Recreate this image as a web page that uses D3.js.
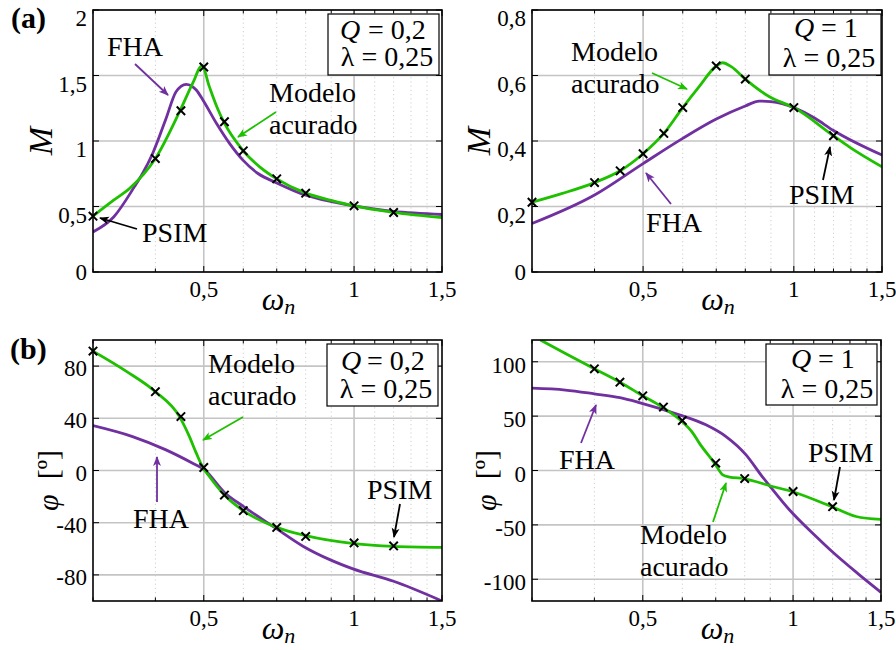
<!DOCTYPE html>
<html><head><meta charset="utf-8">
<script src="https://cdn.jsdelivr.net/npm/d3@7/dist/d3.min.js"></script>
<style>
body{margin:0;background:#fff}
svg{display:block}
svg text, svg tspan{font-family:"Liberation Serif", "Times New Roman", serif}
</style>
</head><body>
<svg id="c" width="896" height="650"></svg>
<script>
// ---------------- DATA ----------------
const xMajor = [0.5, 1, 1.5];
const xMajorLabels = ["0,5", "1", "1,5"];
const xMinor = [0.3, 0.4, 0.6, 0.7, 0.8, 0.9, 1.1, 1.2, 1.3, 1.4];

const yTicksMQ02 = [0, 0.5, 1, 1.5, 2];
const yLabelsMQ02 = ["0", "0,5", "1", "1,5", "2"];
const yTicksMQ1 = [0, 0.2, 0.4, 0.6, 0.8];
const yLabelsMQ1 = ["0", "0,2", "0,4", "0,6", "0,8"];
const yTicksPhiQ02 = [-80, -40, 0, 40, 80];
const yLabelsPhiQ02 = ["-80", "-40", "0", "40", "80"];
const yTicksPhiQ1 = [-100, -50, 0, 50, 100];
const yLabelsPhiQ1 = ["-100", "-50", "0", "50", "100"];

// (a) Q = 0.2 gain
const accW_MQ02 = [0.3, 0.33, 0.355, 0.4, 0.448, 0.475, 0.496, 0.513, 0.531, 0.548, 0.6, 0.647, 0.7, 0.8, 0.9, 1, 1.2, 1.5];
const accM_Q02  = [0.426, 0.548, 0.637, 0.866, 1.231, 1.44, 1.573, 1.415, 1.262, 1.147, 0.925, 0.803, 0.711, 0.602, 0.547, 0.505, 0.455, 0.416];
const fhaW_MQ02 = [0.3, 0.33, 0.363, 0.377, 0.395, 0.42, 0.44, 0.461, 0.483, 0.498, 0.53, 0.563, 0.599, 0.642, 0.7, 0.8, 0.9, 1, 1.2, 1.5];
const fhaM_Q02  = [0.306, 0.42, 0.65, 0.752, 0.905, 1.17, 1.376, 1.433, 1.389, 1.313, 1.135, 0.982, 0.854, 0.752, 0.68, 0.586, 0.537, 0.505, 0.462, 0.439];
const psimW_Q02 = [0.3, 0.4, 0.45, 0.5, 0.55, 0.6, 0.7, 0.8, 1, 1.2];
const psimM_Q02 = [0.426, 0.866, 1.231, 1.565, 1.147, 0.925, 0.711, 0.602, 0.505, 0.454];

// (a) Q = 1 gain
const accW_MQ1 = [0.3, 0.345, 0.4, 0.45, 0.5, 0.55, 0.6, 0.647, 0.7, 0.721, 0.75, 0.8, 0.894, 1, 1.2, 1.29, 1.5];
const accM_Q1  = [0.213, 0.24, 0.273, 0.309, 0.361, 0.423, 0.502, 0.566, 0.629, 0.639, 0.627, 0.589, 0.535, 0.502, 0.416, 0.382, 0.321];
const fhaW_MQ1 = [0.3, 0.4, 0.5, 0.6, 0.7, 0.8, 0.853, 0.9, 1, 1.1, 1.2, 1.5];
const fhaM_Q1  = [0.148, 0.235, 0.331, 0.408, 0.467, 0.507, 0.522, 0.52, 0.502, 0.47, 0.432, 0.357];
const psimW_Q1 = [0.3, 0.4, 0.45, 0.5, 0.55, 0.6, 0.7, 0.8, 1, 1.2];
const psimM_Q1 = [0.213, 0.273, 0.309, 0.361, 0.423, 0.502, 0.629, 0.589, 0.502, 0.416];

// (b) Q = 0.2 phase
const accW_PQ02 = [0.3, 0.35, 0.4, 0.447, 0.468, 0.483, 0.498, 0.513, 0.55, 0.6, 0.7, 0.8, 1, 1.2, 1.5];
const accP_Q02  = [91.5, 76, 60.4, 41.3, 26, 13.3, 2.3, -4.6, -18.8, -30.8, -43.6, -49.9, -56, -58.1, -58.9];
const fhaW_PQ02 = [0.3, 0.36, 0.42, 0.475, 0.5, 0.55, 0.6, 0.693, 0.79, 0.894, 0.995, 1.2, 1.5];
const fhaP_Q02  = [34.4, 26, 15.8, 5.6, 1, -16.8, -27.5, -43.6, -58, -68.3, -75.4, -84.9, -100];
const psimW_PQ02 = [0.3, 0.4, 0.45, 0.5, 0.55, 0.6, 0.7, 0.8, 1, 1.2];
const psimP_Q02  = [91.5, 60.4, 41.3, 2.3, -18.8, -30.8, -43.6, -50.5, -55.5, -57.8];

// (b) Q = 1 phase
const accW_PQ1 = [0.312, 0.35, 0.4, 0.45, 0.5, 0.547, 0.596, 0.63, 0.649, 0.696, 0.723, 0.746, 0.795, 0.91, 0.994, 1.193, 1.337, 1.5];
const accP_Q1  = [120, 107.5, 93.5, 81.2, 68.7, 58.3, 46, 34.4, 25.2, 6.8, -4, -6.1, -7.4, -14.7, -19.3, -33.1, -42.3, -45];
const fhaW_PQ1 = [0.3, 0.35, 0.4, 0.45, 0.492, 0.592, 0.669, 0.734, 0.805, 0.869, 0.89, 0.983, 1.112, 1.2, 1.35, 1.5];
const fhaP_Q1  = [75.7, 74, 70.5, 67, 62.5, 51.2, 42, 31.2, 14.4, -6.1, -12, -36.1, -60.7, -75, -95, -112];
const psimW_PQ1 = [0.4, 0.45, 0.5, 0.55, 0.6, 0.7, 0.8, 1, 1.2];
const psimP_Q1  = [93.5, 81.2, 68.7, 58.3, 46, 6.8, -7.4, -19.3, -33.3];

// ---------------- STYLE ----------------
const FONT = "Liberation Serif";
const GREEN = "#1ec000", PURPLE = "#7030a0", GRID = "#c4c4c4";
const zip = (a, b) => a.map((v, i) => [v, b[i]]);

const svg = d3.select("#c");
const defs = svg.append("defs");
function arrowMarker(id, color) {
  defs.append("marker").attr("id", id).attr("viewBox", "0 0 10 10")
    .attr("refX", 9).attr("refY", 5).attr("markerWidth", 5.5).attr("markerHeight", 5.5)
    .attr("markerUnits", "strokeWidth").attr("orient", "auto")
    .append("path").attr("d", "M0,1 L10,5 L0,9 L2.5,5 Z").attr("fill", color);
}
arrowMarker("ag", GREEN); arrowMarker("ap", PURPLE); arrowMarker("ak", "#000");

function txt(parent, x, y, size) {
  return parent.append("text").attr("x", x).attr("y", y).attr("font-size", size)
    .attr("font-family", FONT).attr("fill", "#000");
}

const panels = [
  { id: "tl", x0: 93, x1: 442, y0: 10, y1: 272, yDom: [0, 2], yT: yTicksMQ02, yL: yLabelsMQ02, lblOff: 8,
    acc: zip(accW_MQ02, accM_Q02), fha: zip(fhaW_MQ02, fhaM_Q02), psim: zip(psimW_Q02, psimM_Q02),
    ylab: "M", ylabX: 52, q: "= 0,2", box: [328, 14, 111, 61], qx: [340, 368], lx: 387, boxB: [39, 66] },
  { id: "tr", x0: 532, x1: 882, y0: 10, y1: 272, yDom: [0, 0.8], yT: yTicksMQ1, yL: yLabelsMQ1, lblOff: 8,
    acc: zip(accW_MQ1, accM_Q1), fha: zip(fhaW_MQ1, fhaM_Q1), psim: zip(psimW_Q1, psimM_Q1),
    ylab: "M", ylabX: 490, q: "= 1", box: [769, 14, 112, 61], qx: [794, 821], lx: 829, boxB: [37, 67] },
  { id: "bl", x0: 93, x1: 442, y0: 340, y1: 601, yDom: [-100, 100], yT: yTicksPhiQ02, yL: yLabelsPhiQ02, lblOff: 2,
    acc: zip(accW_PQ02, accP_Q02), fha: zip(fhaW_PQ02, fhaP_Q02), psim: zip(psimW_PQ02, psimP_Q02),
    ylab: "phi", ylabX: 58, q: "= 0,2", box: [327, 344, 111, 62], qx: [341, 367], lx: 386, boxB: [370, 398] },
  { id: "br", x0: 532, x1: 881, y0: 340, y1: 601, yDom: [-120, 120], yT: yTicksPhiQ1, yL: yLabelsPhiQ1, lblOff: 3,
    acc: zip(accW_PQ1, accP_Q1), fha: zip(fhaW_PQ1, fhaP_Q1), psim: zip(psimW_PQ1, psimP_Q1),
    ylab: "phi", ylabX: 496, q: "= 1", box: [766, 344, 111, 61], qx: [791, 818], lx: 827, boxB: [368, 398] }
];

panels.forEach(p => {
  const xs = d3.scaleLog().domain([0.3, 1.5]).range([p.x0, p.x1]);
  const ys = d3.scaleLinear().domain(p.yDom).range([p.y1, p.y0]);
  const g = svg.append("g");

  // grid
  g.selectAll(".gmin").data(xMinor.filter(v => v > 0.3)).enter().append("line")
    .attr("x1", d => xs(d)).attr("x2", d => xs(d)).attr("y1", p.y0).attr("y2", p.y1)
    .attr("stroke", "#cfcfcf").attr("stroke-width", 1).attr("stroke-dasharray", "1.2,3");
  g.selectAll(".gmaj").data(xMajor.filter(v => v < 1.5)).enter().append("line")
    .attr("x1", d => xs(d)).attr("x2", d => xs(d)).attr("y1", p.y0).attr("y2", p.y1)
    .attr("stroke", GRID).attr("stroke-width", 1.6);
  g.selectAll(".gy").data(p.yT).enter().append("line")
    .attr("x1", p.x0).attr("x2", p.x1).attr("y1", d => ys(d)).attr("y2", d => ys(d))
    .attr("stroke", GRID).attr("stroke-width", 1.6);

  // clip
  defs.append("clipPath").attr("id", "clip" + p.id).append("rect")
    .attr("x", p.x0).attr("y", p.y0).attr("width", p.x1 - p.x0).attr("height", p.y1 - p.y0);
  const line = d3.line().x(d => xs(d[0])).y(d => ys(d[1])).curve(d3.curveMonotoneX);
  const cg = g.append("g").attr("clip-path", `url(#clip${p.id})`);
  cg.append("path").attr("d", line(p.fha)).attr("fill", "none").attr("stroke", PURPLE).attr("stroke-width", 2.8);
  cg.append("path").attr("d", line(p.acc)).attr("fill", "none").attr("stroke", GREEN).attr("stroke-width", 2.8);

  // PSIM markers
  const s = 4.2;
  g.selectAll(".mk").data(p.psim).enter().append("path")
    .attr("d", d => { const X = xs(d[0]), Y = ys(d[1]);
      return `M${X - s},${Y - s}L${X + s},${Y + s}M${X - s},${Y + s}L${X + s},${Y - s}`; })
    .attr("stroke", "#000").attr("stroke-width", 2).attr("fill", "none");

  // ticks (inward, all sides)
  const tk = g.append("g").attr("stroke", "#000").attr("stroke-width", 1);
  xMajor.forEach(v => {
    tk.append("line").attr("x1", xs(v)).attr("x2", xs(v)).attr("y1", p.y1).attr("y2", p.y1 - 6);
    tk.append("line").attr("x1", xs(v)).attr("x2", xs(v)).attr("y1", p.y0).attr("y2", p.y0 + 6);
  });
  xMinor.forEach(v => {
    tk.append("line").attr("x1", xs(v)).attr("x2", xs(v)).attr("y1", p.y1).attr("y2", p.y1 - 3.5);
    tk.append("line").attr("x1", xs(v)).attr("x2", xs(v)).attr("y1", p.y0).attr("y2", p.y0 + 3.5);
  });
  p.yT.forEach(v => {
    tk.append("line").attr("x1", p.x0).attr("x2", p.x0 + 6).attr("y1", ys(v)).attr("y2", ys(v));
    tk.append("line").attr("x1", p.x1).attr("x2", p.x1 - 6).attr("y1", ys(v)).attr("y2", ys(v));
  });

  // frame
  g.append("rect").attr("x", p.x0).attr("y", p.y0).attr("width", p.x1 - p.x0).attr("height", p.y1 - p.y0)
    .attr("fill", "none").attr("stroke", "#000").attr("stroke-width", 1.6);

  // tick labels
  xMajor.forEach((v, i) => txt(g, xs(v), p.y1 + 25, 23).attr("text-anchor", "middle").text(xMajorLabels[i]));
  p.yT.forEach((v, i) => txt(g, p.x0 - 6, ys(v) + 8 + (p.lblOff > 4 && i === 0 ? 0 : p.lblOff), 23)
    .attr("text-anchor", "end").text(p.yL[i]));

  // axis labels
  const xl = txt(g, (p.x0 + p.x1) / 2 + 11, p.y1 + 38, 32).attr("text-anchor", "middle");
  xl.append("tspan").attr("font-style", "italic").text("ω");
  xl.append("tspan").attr("font-style", "italic").attr("font-size", 22).attr("dy", 4).text("n");

  const ymid = (p.y0 + p.y1) / 2;
  if (p.ylab === "M") {
    txt(g, 0, 0, 34).attr("transform", `translate(${p.ylabX},${ymid}) rotate(-90)`)
      .attr("text-anchor", "middle").attr("font-style", "italic").text("M");
  } else {
    const t = txt(g, 0, 0, 30).attr("transform", `translate(${p.ylabX},${ymid + 10}) rotate(-90)`)
      .attr("text-anchor", "middle");
    t.append("tspan").attr("font-style", "italic").text("φ");
    t.append("tspan").text("\u00a0\u00a0[º]");
  }

  // parameter box
  g.append("rect").attr("x", p.box[0]).attr("y", p.box[1]).attr("width", p.box[2]).attr("height", p.box[3])
    .attr("fill", "#fff").attr("stroke", "#000").attr("stroke-width", 1.2);
  txt(g, p.qx[0], p.boxB[0], 28).attr("font-style", "italic").text("Q");
  txt(g, p.qx[1], p.boxB[0], 28).text(p.q);
  txt(g, p.lx, p.boxB[1], 28).attr("text-anchor", "middle").text("λ = 0,25");
});

// ---------------- ANNOTATIONS ----------------
const notes = [
  { t: ["FHA"], x: 107, y: 56, c: PURPLE, m: "ap", a: [135, 64, 168, 95] },
  { t: ["Modelo", "acurado"], x: 269, y: 102, c: GREEN, m: "ag", a: [276, 112, 238, 137] },
  { t: ["PSIM"], x: 142, y: 242, c: "#000", m: "ak", a: [137, 229, 100, 218] },
  { t: ["Modelo", "acurado"], x: 571, y: 61, c: GREEN, m: "ag", a: [652, 73, 687, 89] },
  { t: ["FHA"], x: 646, y: 232, c: PURPLE, m: "ap", a: [671, 204, 646, 173] },
  { t: ["PSIM"], x: 789, y: 204, c: "#000", m: "ak", a: [823, 180, 830, 147] },
  { t: ["Modelo", "acurado"], x: 208, y: 373, c: GREEN, m: "ag", a: [243, 417, 203, 440] },
  { t: ["FHA"], x: 133, y: 528, c: PURPLE, m: "ap", a: [157, 502, 157, 457] },
  { t: ["PSIM"], x: 367, y: 499, c: "#000", m: "ak", a: [400, 504, 394, 537] },
  { t: ["FHA"], x: 559, y: 469, c: PURPLE, m: "ap", a: [581, 443, 596, 405] },
  { t: ["PSIM"], x: 808, y: 462, c: "#000", m: "ak", a: [840, 467, 834, 500] },
  { t: ["Modelo", "acurado"], x: 640, y: 544, c: GREEN, m: "ag", a: [713, 522, 726, 483] }
];
notes.forEach(n => {
  n.t.forEach((s, i) => txt(svg, n.x, n.y + i * 32, 28).text(s));
  svg.append("line").attr("x1", n.a[0]).attr("y1", n.a[1]).attr("x2", n.a[2]).attr("y2", n.a[3])
    .attr("stroke", n.c).attr("stroke-width", 1.8).attr("marker-end", `url(#${n.m})`);
});

txt(svg, 11, 28, 30).attr("font-weight", "bold").text("(a)");
txt(svg, 10, 359, 30).attr("font-weight", "bold").text("(b)");
</script>
</body></html>
